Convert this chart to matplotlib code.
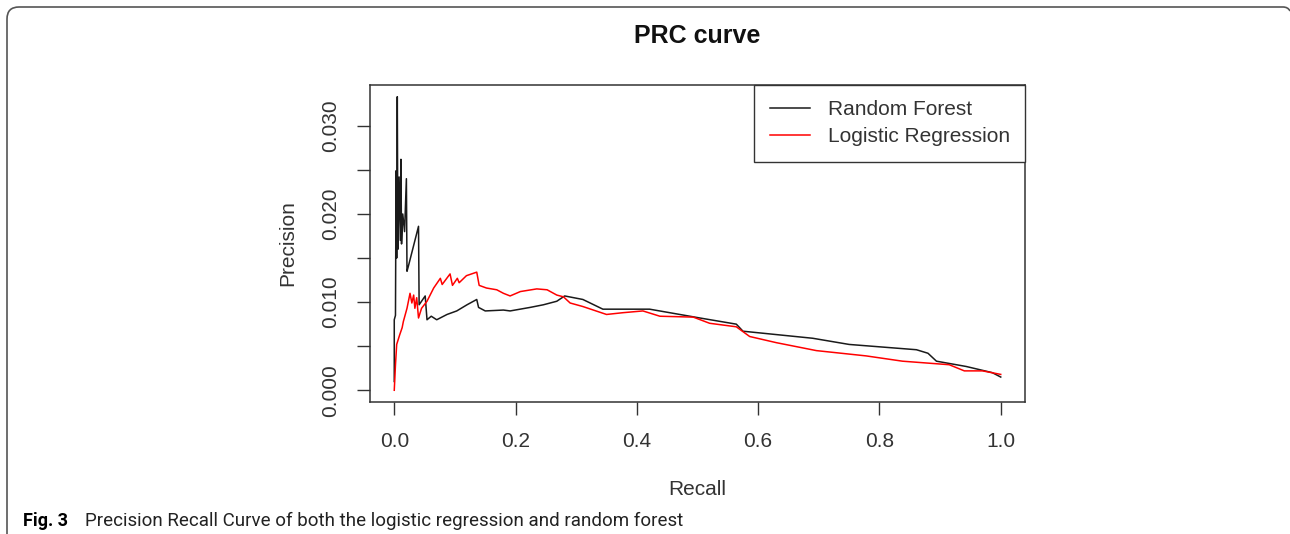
import matplotlib.pyplot as plt
from matplotlib.path import Path
from matplotlib.patches import PathPatch

# --- data ---
rf_recall = [0.000, 0.000, 0.002, 0.003, 0.004, 0.005, 0.006, 0.008, 0.010, 0.011,
             0.012, 0.014, 0.017, 0.020, 0.021, 0.023, 0.040, 0.041, 0.051, 0.054,
             0.061, 0.070, 0.087, 0.103, 0.120, 0.136, 0.139, 0.150, 0.180, 0.191,
             0.224, 0.246, 0.268, 0.281, 0.311, 0.344, 0.421, 0.504, 0.564, 0.575,
             0.690, 0.750, 0.861, 0.880, 0.894, 0.943, 0.986, 1.000]
rf_precision = [0.0010, 0.0080, 0.0085, 0.0249, 0.0150, 0.0333, 0.0160, 0.0242, 0.0170, 0.0262,
                0.0166, 0.0200, 0.0180, 0.0240, 0.0135, 0.0140, 0.0186, 0.0097, 0.0107, 0.0080,
                0.0084, 0.0080, 0.0086, 0.0090, 0.0097, 0.0103, 0.0094, 0.0090, 0.0091, 0.0090,
                0.0094, 0.0097, 0.0101, 0.0107, 0.0103, 0.0092, 0.0092, 0.0082, 0.0075, 0.0067,
                0.0059, 0.0052, 0.0046, 0.0042, 0.0033, 0.0027, 0.0020, 0.0015]

lr_recall = [0.000, 0.002, 0.004, 0.009, 0.013, 0.015, 0.021, 0.026, 0.029, 0.032,
             0.034, 0.037, 0.040, 0.045, 0.054, 0.065, 0.076, 0.079, 0.092, 0.096,
             0.104, 0.107, 0.119, 0.136, 0.140, 0.152, 0.169, 0.180, 0.191, 0.208,
             0.235, 0.252, 0.268, 0.279, 0.290, 0.311, 0.350, 0.377, 0.410, 0.438,
             0.493, 0.520, 0.564, 0.586, 0.630, 0.696, 0.778, 0.838, 0.915, 0.940,
             0.970, 1.000]
lr_precision = [0.0000, 0.0029, 0.0052, 0.0063, 0.0071, 0.0078, 0.0093, 0.0110, 0.0099, 0.0108,
                0.0093, 0.0105, 0.0082, 0.0093, 0.0101, 0.0116, 0.0127, 0.0120, 0.0132, 0.0119,
                0.0127, 0.0122, 0.0130, 0.0134, 0.0119, 0.0116, 0.0114, 0.0110, 0.0107, 0.0112,
                0.0115, 0.0114, 0.0108, 0.0106, 0.0099, 0.0095, 0.0086, 0.0088, 0.0090, 0.0084,
                0.0083, 0.0076, 0.0072, 0.0061, 0.0054, 0.0045, 0.0039, 0.0033, 0.0029, 0.0022,
                0.0022, 0.0018]

x_ticks = [0.0, 0.2, 0.4, 0.6, 0.8, 1.0]
y_ticks = [0.000, 0.005, 0.010, 0.015, 0.020, 0.025, 0.030]
y_labels = ['0.000', '', '0.010', '', '0.020', '', '0.030']

plt.rcParams['font.family'] = ['Liberation Sans', 'DejaVu Sans']

W, H = 1290, 534
fig = plt.figure(figsize=(W / 100, H / 100), dpi=100)
ax = fig.add_axes([370 / W, 1 - 402 / H, 655 / W, 317 / H])

ax.plot(rf_recall, rf_precision, color='#1a1a1a', linewidth=1.1, label='Random Forest')
ax.plot(lr_recall, lr_precision, color='red', linewidth=1.1, label='Logistic Regression')

ax.set_xlim(-0.04, 1.04)
ax.set_ylim(-0.00133, 0.03463)
ax.set_xticks(x_ticks)
ax.set_xticklabels([f'{v:.1f}' for v in x_ticks])
ax.set_yticks(y_ticks)
ax.set_yticklabels(y_labels, rotation=90, va='center')
ax.tick_params(length=9.4, width=1.0, pad=12, labelsize=15, color='#333333', labelcolor='#333333')
for s in ax.spines.values():
    s.set_linewidth(1.1)
    s.set_color('#333333')

ax.set_xlabel('Recall', fontsize=15, color='#333333')
ax.xaxis.set_label_coords(0.5, -0.245)
ax.xaxis.label.set_va('top')
ax.set_ylabel('Precision', fontsize=15, color='#333333')
ax.yaxis.set_label_coords(-0.111, 0.5)

leg = ax.legend(loc='upper right', bbox_to_anchor=(1, 1), borderaxespad=0, fancybox=False,
                edgecolor='#333333', fontsize=15, handlelength=1.92, handletextpad=0.87,
                labelspacing=0.39, borderpad=0.73, framealpha=1)
leg.get_frame().set_linewidth(1.0)
for t in leg.get_texts():
    t.set_color('#333333')

fig.text(697 / W, 1 - 36 / H, 'PRC curve', ha='center', va='center', fontsize=18,
         fontweight='bold', color='#111111')

# caption
cap = fig.text(23 / W, 1 - 526 / H, 'Fig. 3', ha='left', va='baseline', fontsize=13,
               fontweight='bold', family=['Roboto', 'DejaVu Sans'])
ax.annotate('Precision Recall Curve of both the logistic regression and random forest',
            xy=(1, 0), xycoords=cap, xytext=(12, 0), textcoords='offset points',
            va='bottom', fontsize=13.5, family=['Roboto', 'DejaVu Sans'],
            color='#222222', annotation_clip=False)

# outer frame (top-left rounded border of the journal figure box)
pts = [(7, 0), (7, H - 19), (7, H - 7), (19, H - 7), (1283, H - 7), (1288, H - 7), (1290, H - 11)]
codes = [Path.MOVETO, Path.LINETO, Path.CURVE3, Path.CURVE3, Path.LINETO, Path.CURVE3, Path.CURVE3]
frame = PathPatch(Path([(x / W, y / H) for x, y in pts], codes), transform=fig.transFigure,
                  fill=False, edgecolor='#555555', linewidth=1.2)
fig.patches.append(frame)

fig.savefig('out.png', dpi=100)
